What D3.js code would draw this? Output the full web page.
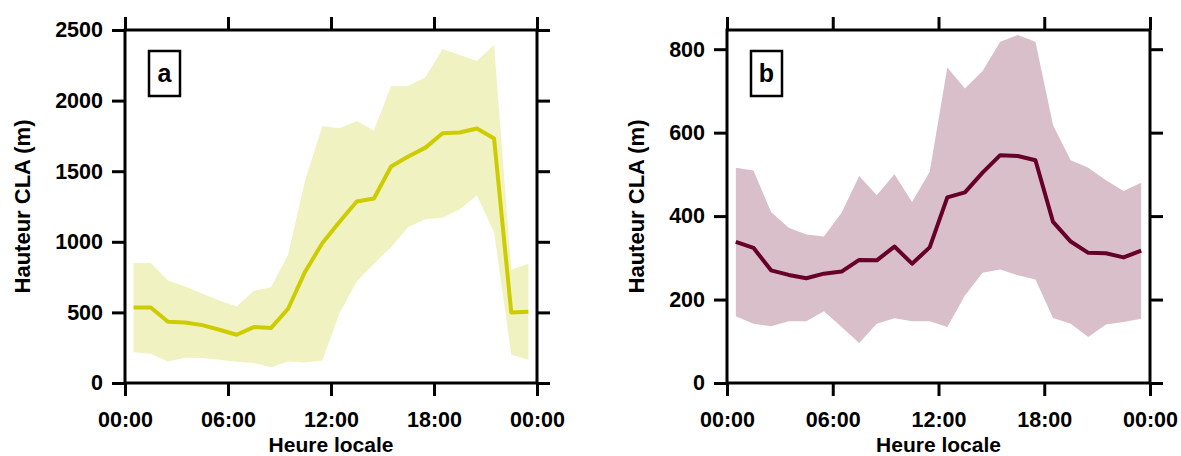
<!DOCTYPE html>
<html>
<head>
<meta charset="utf-8">
<script src="https://cdn.jsdelivr.net/npm/d3@7"></script>
<style>
  html, body { margin: 0; padding: 0; background: #fff; }
  svg { display: block; }
  text { font-family: "Liberation Sans", Arial, Helvetica, sans-serif; font-weight: bold; fill: #000; }
</style>
</head>
<body>
<svg id="chart" width="1181" height="456"></svg>
<script>
// ---- data ----
const hours = [0.5,1.5,2.5,3.5,4.5,5.5,6.5,7.5,8.5,9.5,10.5,11.5,12.5,13.5,14.5,15.5,16.5,17.5,18.5,19.5,20.5,21.5,22.5,23.5];
const xTickValues = [0, 6, 12, 18, 24];
const xTickLabels = ["00:00", "06:00", "12:00", "18:00", "00:00"];

const meanA  = [535,535,434,429,410,377,342,396,389,526,790,991,1142,1285,1307,1533,1604,1667,1769,1774,1802,1731,500,505];
const upperA = [849,849,726,684,632,585,542,653,679,908,1439,1821,1804,1856,1788,2104,2104,2165,2366,2323,2281,2394,802,844];
const lowerA = [217,208,153,179,177,165,151,142,111,153,146,160,495,719,844,962,1104,1160,1170,1231,1330,1066,200,165];
const yTicksA = [0, 500, 1000, 1500, 2000, 2500];

const meanB  = [338,324,270,259,251,262,267,295,294,327,286,325,445,457,504,546,544,534,386,339,312,311,301,317];
const upperB = [516,509,410,372,356,351,408,496,450,500,434,506,756,706,748,818,834,818,618,534,516,486,460,480];
const lowerB = [160,142,136,148,148,172,134,96,142,155,148,148,134,210,264,272,258,248,156,142,110,140,146,154];
const yTicksB = [0, 200, 400, 600, 800];

const yLabel = "Hauteur CLA (m)";
const xLabel = "Heure locale";

const svg = d3.select("#chart");

function panel(o) {
  const g = svg.append("g");
  const x = d3.scaleLinear().domain([0, 24]).range([o.x0, o.x1]);
  const y = d3.scaleLinear().domain([0, o.yMax]).range([o.y1, o.y0]);
  const pts = hours.map((h, i) => ({h, m: o.mean[i], lo: o.lower[i], hi: o.upper[i]}));

  g.append("path").datum(pts)
    .attr("fill", o.fill)
    .attr("d", d3.area().x(d => x(d.h)).y0(d => y(d.lo)).y1(d => y(d.hi)));
  g.append("path").datum(pts)
    .attr("fill", "none").attr("stroke", o.line).attr("stroke-width", 4)
    .attr("stroke-linejoin", "round")
    .attr("d", d3.line().x(d => x(d.h)).y(d => y(d.m)));

  const tk = 13;
  const fmt = d => xTickLabels[xTickValues.indexOf(d)];
  const axes = [
    g.append("g").attr("transform", `translate(0,${o.y1})`)
      .call(d3.axisBottom(x).tickValues(xTickValues).tickFormat(fmt).tickSize(tk).tickSizeOuter(0).tickPadding(16)),
    g.append("g").attr("transform", `translate(0,${o.y0})`)
      .call(d3.axisTop(x).tickValues(xTickValues).tickFormat("").tickSize(tk).tickSizeOuter(0)),
    g.append("g").attr("transform", `translate(${o.x0},0)`)
      .call(d3.axisLeft(y).tickValues(o.yTicks).tickFormat(d3.format("d")).tickSize(tk).tickSizeOuter(0).tickPadding(9)),
    g.append("g").attr("transform", `translate(${o.x1},0)`)
      .call(d3.axisRight(y).tickValues(o.yTicks).tickFormat("").tickSize(tk).tickSizeOuter(0))
  ];
  axes.forEach(a => {
    a.select(".domain").remove();
    a.selectAll("line").attr("stroke", "#000").attr("stroke-width", 3);
    a.selectAll("text").attr("font-size", 21.5).attr("font-weight", "bold")
      .attr("font-family", '"Liberation Sans", Arial, sans-serif').attr("fill", "#000");
  });

  g.append("rect").attr("x", o.x0).attr("y", o.y0)
    .attr("width", o.x1 - o.x0).attr("height", o.y1 - o.y0)
    .attr("fill", "none").attr("stroke", "#000").attr("stroke-width", 3);

  // panel tag
  g.append("rect").attr("x", o.x0 + 24).attr("y", 51).attr("width", 31).attr("height", 45)
    .attr("fill", "#fff").attr("stroke", "#000").attr("stroke-width", 2.5);
  g.append("text").attr("x", o.x0 + 39.5).attr("y", 82).attr("text-anchor", "middle")
    .attr("font-size", 25).text(o.tag);

  g.append("text").attr("x", (o.x0 + o.x1) / 2).attr("y", 452).attr("text-anchor", "middle")
    .attr("font-size", 21).text(xLabel);
  g.append("text").attr("transform", `translate(${o.ylx},${(o.y0 + o.y1) / 2}) rotate(-90)`)
    .attr("text-anchor", "middle").attr("font-size", 22).text(yLabel);
}

panel({x0: 125, x1: 537, y0: 30, y1: 383, yMax: 2500, yTicks: yTicksA,
       mean: meanA, upper: upperA, lower: lowerA,
       fill: "#f1f2c2", line: "#cccc00", tag: "a", ylx: 30});
panel({x0: 727, x1: 1150, y0: 30, y1: 383, yMax: 846, yTicks: yTicksB,
       mean: meanB, upper: upperB, lower: lowerB,
       fill: "#d9bfca", line: "#660029", tag: "b", ylx: 644});
</script>
</body>
</html>
